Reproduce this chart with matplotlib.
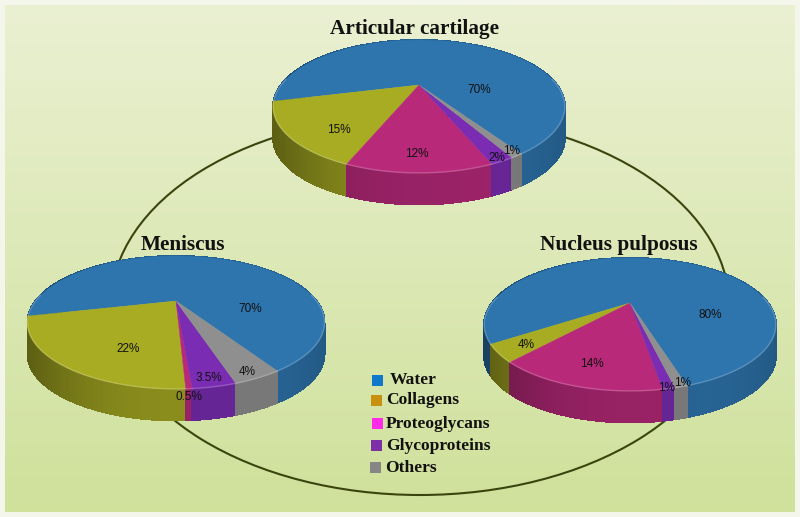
import numpy as np
import matplotlib
matplotlib.use("Agg")
import matplotlib.pyplot as plt
from matplotlib.patches import Polygon, Ellipse, Rectangle

categories = ["Water", "Collagens", "Proteoglycans", "Glycoproteins", "Others"]
titles = ["Articular cartilage", "Meniscus", "Nucleus pulposus"]
articular = [70, 15, 12, 2, 1]
meniscus = [70, 22, 0.5, 3.5, 4]
nucleus = [80, 4, 14, 1, 1]
articular_labels = ["70%", "15%", "12%", "2%", "1%"]
meniscus_labels = ["70%", "22%", "0.5%", "3.5%", "4%"]
nucleus_labels = ["80%", "4%", "14%", "1%", "1%"]

slice_colors = ["#2E75AE", "#A8AC22", "#B8297A", "#7A2CB2", "#8F8F8F"]
legend_colors = ["#0F78C8", "#C8900F", "#FF2BE6", "#7B30A8", "#868686"]

fig = plt.figure(figsize=(8, 5.17), dpi=100)
ax = fig.add_axes([0, 0, 1, 1])
fig.patch.set_facecolor("#F4F6EC")

# background
top = np.array([234, 240, 210]) / 255
bottom = np.array([207, 225, 155]) / 255
t = np.linspace(0, 1, 256)[:, None, None]
grad = top * (1 - t) + bottom * t
ax.imshow(grad, extent=(5, 795, 512, 5), aspect="auto", zorder=0)
ax.set_xlim(0, 800)
ax.set_ylim(517, 0)
ax.axis("off")

# connecting ring
ax.add_patch(Ellipse((420, 305), 618, 380, fill=False, ec="#3A450E", lw=1.5, zorder=1))

K, S, DEPTH = 0.323, 59.5, 31.5


def project(theta, ax0, ay0, R):
    x, y = np.cos(theta), np.sin(theta)
    w = 1 - K * y
    return ax0 + R * x / w, ay0 + S * y / w


def draw_pie(values, labels, ax0, ay0, R, end_deg, label_pos):
    angles = np.array(values, dtype=float) * 3.6
    spans = {0: (end_deg - angles[0], end_deg)}
    cur = end_deg
    for i in [4, 3, 2, 1]:
        spans[i] = (cur, cur + angles[i])
        cur += angles[i]
    # side walls
    for i in range(5):
        a0, a1 = spans[i]
        n = max(int((a1 - a0) / 1.5), 2)
        th = np.radians(np.linspace(a0, a1, n + 1))
        sx, sy = project(th, ax0, ay0, R)
        base = np.array(matplotlib.colors.to_rgb(slice_colors[i]))
        for j in range(n):
            xm = (sx[j] + sx[j + 1]) / 2
            u = (xm - ax0) / (R * 1.06)
            shade = 0.82 - 0.27 * max(-u, 0) ** 2.2 + 0.06 * max(u, 0) - 0.12 * max(u, 0) ** 4
            col = base * shade
            poly = [(sx[j], sy[j]), (sx[j + 1], sy[j + 1]),
                    (sx[j + 1], sy[j + 1] + DEPTH), (sx[j], sy[j] + DEPTH)]
            ax.add_patch(Polygon(poly, closed=True, fc=col, ec=col, lw=0.8,
                                 antialiased=False, zorder=2))
    # top faces
    for i in range(5):
        a0, a1 = spans[i]
        n = max(int((a1 - a0) / 1.0), 2)
        th = np.radians(np.linspace(a0, a1, n + 1))
        sx, sy = project(th, ax0, ay0, R)
        pts = [(ax0, ay0)] + list(zip(sx, sy))
        ax.add_patch(Polygon(pts, closed=True, fc=slice_colors[i], ec=slice_colors[i], lw=0.3, zorder=3))
        # light rim on the front edge only
        rx = np.where(np.sin(th) > -0.1, sx, np.nan)
        base = np.array(matplotlib.colors.to_rgb(slice_colors[i]))
        ax.plot(rx, sy, color=base * 0.7 + 0.3, lw=1.0, alpha=0.7, zorder=4)
    for s, (px, py) in zip(labels, label_pos):
        ax.text(px, py, s, ha="center", va="center", fontsize=8.5,
                family="Liberation Sans", color="#111111", zorder=5)


draw_pie(articular, articular_labels, 419, 85, 138, 90 - 32.5,
         [(479, 90), (339, 130), (417, 154), (497, 158), (512, 151)])
draw_pie(meniscus, meniscus_labels, 176, 301, 140.5, 90 - 31.5,
         [(250, 309), (128, 349), (189, 397), (209, 378), (247, 372)])
draw_pie(nucleus, nucleus_labels, 630, 303, 138, 90 - 16.5,
         [(710, 315), (526, 345), (592, 364), (667, 388), (683, 383)])

title_pos = [(414, 29), (183, 245), (619, 245)]
for s, (px, py) in zip(titles, title_pos):
    ax.text(px, py, s, ha="center", va="center", fontsize=15.3, fontweight="bold",
            family="Liberation Serif", color="#111111", zorder=6)

leg_x = [377, 376, 377, 376, 375]
leg_y = [380, 400, 423, 445, 467]
txt_x = [390, 386, 386, 386, 385]
for c, col, lx, ly, tx in zip(categories, legend_colors, leg_x, leg_y, txt_x):
    ax.add_patch(Rectangle((lx - 5.5, ly - 5.5), 11, 11, fc=col, ec="none", zorder=6))
    ax.text(tx, ly + 0.5, c, ha="left", va="center", fontsize=12.6, fontweight="bold",
            family="Liberation Serif", color="#111111", zorder=6)

fig.savefig("out.png", dpi=100)
